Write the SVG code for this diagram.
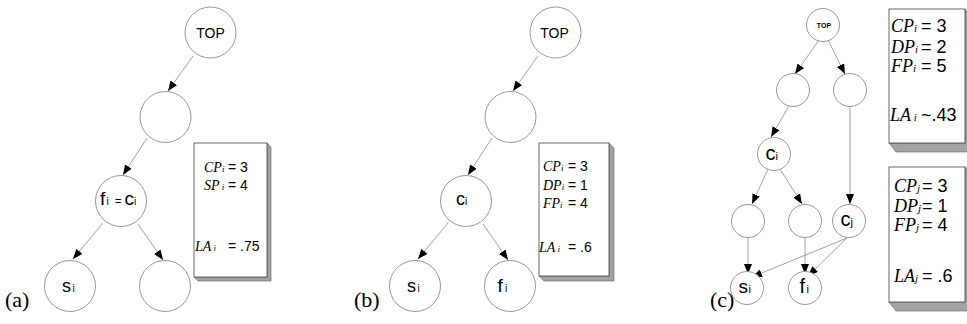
<svg xmlns="http://www.w3.org/2000/svg" width="967" height="324" viewBox="0 0 967 324">
<defs>
<marker id="ah" viewBox="0 0 10 8" markerWidth="10" markerHeight="8" refX="10" refY="4" orient="auto" markerUnits="userSpaceOnUse">
<path d="M0,0 L10,4 L0,8 Z" fill="#000"/>
</marker>
<style>
.nd{fill:#fff;stroke:#999;stroke-width:1}
.ed{stroke:#8a8a8a;stroke-width:0.8;fill:none;marker-end:url(#ah)}
.lb{font-family:"Liberation Sans",Arial,sans-serif;fill:#000}
.bx{fill:#fff;stroke:#444;stroke-width:0.8}
.sh{fill:#a3a3a3;stroke:#666;stroke-width:0.6}
.it{font-family:"Liberation Serif","Times New Roman",serif;font-style:italic}
.sv{font-family:"Liberation Sans",Arial,sans-serif}
.pl{font-family:"Liberation Serif","Times New Roman",serif;font-size:22px;fill:#000}
</style>
</defs>
<rect width="967" height="324" fill="#fff"/>

<g id="connectors">
<line class="ed" x1="193" y1="56" x2="168" y2="91"/>
<line class="ed" x1="147" y1="138" x2="123" y2="175"/>
<line class="ed" x1="103" y1="223" x2="73" y2="259"/>
<line class="ed" x1="138" y1="224" x2="163" y2="260"/>

<line class="ed" x1="538" y1="56" x2="513" y2="91"/>
<line class="ed" x1="492" y1="138" x2="468" y2="175"/>
<line class="ed" x1="448" y1="223" x2="418" y2="259"/>
<line class="ed" x1="483" y1="224" x2="508" y2="260"/>

<line class="ed" x1="819" y1="40" x2="795" y2="74"/>
<line class="ed" x1="828" y1="40" x2="845" y2="74"/>
<line class="ed" x1="789" y1="106" x2="771" y2="137"/>
<line class="ed" x1="850" y1="107" x2="850" y2="204"/>
<line class="ed" x1="768" y1="169" x2="752" y2="204"/>
<line class="ed" x1="780" y1="169" x2="802" y2="204"/>
<line class="ed" x1="748" y1="238" x2="748" y2="274"/>
<line class="ed" x1="805" y1="238" x2="805" y2="274"/>
<line class="ed" x1="847" y1="238" x2="752" y2="277"/>
<line class="ed" x1="847" y1="238" x2="808" y2="276"/>
</g>

<g id="a-top"><circle class="nd" cx="210.5" cy="32.5" r="25.5"/><text class="lb" x="210.5" y="37.5" font-size="14" text-anchor="middle">TOP</text></g>
<g id="a-n2"><circle class="nd" cx="165.5" cy="117" r="25.5"/></g>
<g id="a-fc"><circle class="nd" cx="121" cy="201" r="25.5"/><text class="lb" y="205"><tspan x="100" font-size="19">f</tspan><tspan x="106.5" font-size="10">i</tspan><tspan x="115" font-size="11">=</tspan><tspan x="124.5" font-size="19">c</tspan><tspan x="134" font-size="10">i</tspan></text></g>
<g id="a-s"><circle class="nd" cx="70" cy="286" r="25.5"/><text class="lb" y="292"><tspan x="62" font-size="18">s</tspan><tspan x="72.5" font-size="10">i</tspan></text></g>
<g id="a-r"><circle class="nd" cx="165" cy="286" r="25.5"/></g>
<g id="a-box">
<polygon class="sh" points="267,143 271,147 271,281 198,281 194,277 267,277"/>
<rect class="bx" x="194" y="143" width="73" height="134"/>
<text y="172" font-size="14"><tspan x="204" class="it" font-size="14">CP</tspan><tspan class="it" font-size="9">i</tspan><tspan x="228" class="sv">= 3</tspan></text>
<text y="190" font-size="14"><tspan x="204" class="it" font-size="14">SP</tspan><tspan class="it" font-size="9"> i</tspan><tspan x="228" class="sv">= 4</tspan></text>
<text y="251" font-size="14"><tspan x="195" class="it" font-size="14">LA</tspan><tspan class="it" font-size="9"> i</tspan><tspan x="228" class="sv">= .75</tspan></text>
</g>
<text class="pl" x="5" y="307">(a)</text>

<g id="b-top"><circle class="nd" cx="555.5" cy="32.5" r="25.5"/><text class="lb" x="554.5" y="37.5" font-size="14" text-anchor="middle">TOP</text></g>
<g id="b-n2"><circle class="nd" cx="510.5" cy="117" r="25.5"/></g>
<g id="b-c"><circle class="nd" cx="466" cy="201" r="25.5"/><text class="lb" y="205"><tspan x="456" font-size="18">c</tspan><tspan x="465" font-size="10">i</tspan></text></g>
<g id="b-s"><circle class="nd" cx="415" cy="286" r="25.5"/><text class="lb" y="292"><tspan x="407" font-size="18">s</tspan><tspan x="417.5" font-size="10">i</tspan></text></g>
<g id="b-f"><circle class="nd" cx="510" cy="286" r="25.5"/><text class="lb" y="292"><tspan x="497.5" font-size="19">f</tspan><tspan x="505" font-size="10">i</tspan></text></g>
<g id="b-box">
<polygon class="sh" points="609,143 614,148 614,281 544,281 539,276 609,276"/>
<rect class="bx" x="539" y="143" width="70" height="133"/>
<text y="171" font-size="14"><tspan x="543" class="it" font-size="14">CP</tspan><tspan class="it" font-size="9">i</tspan><tspan x="568" class="sv">= 3</tspan></text>
<text y="190" font-size="14"><tspan x="543" class="it" font-size="14">DP</tspan><tspan class="it" font-size="9">i</tspan><tspan x="568" class="sv">= 1</tspan></text>
<text y="208" font-size="14"><tspan x="543" class="it" font-size="14">FP</tspan><tspan class="it" font-size="9">i</tspan><tspan x="568" class="sv">= 4</tspan></text>
<text y="252" font-size="14"><tspan x="539" class="it" font-size="14">LA</tspan><tspan class="it" font-size="9"> i</tspan><tspan x="568" class="sv">= .6</tspan></text>
</g>
<text class="pl" x="354" y="307">(b)</text>

<g id="c-top"><circle class="nd" cx="823" cy="25" r="16.5"/><text class="lb" x="824" y="27.5" font-size="7" font-weight="bold" text-anchor="middle">TOP</text></g>
<g id="c-l2a"><circle class="nd" cx="793" cy="90" r="16.5"/></g>
<g id="c-l2b"><circle class="nd" cx="850" cy="90" r="16.5"/></g>
<g id="c-c"><circle class="nd" cx="774" cy="154" r="16.5"/><text class="lb" y="160"><tspan x="765.5" font-size="20">c</tspan><tspan x="775.5" font-size="11">i</tspan></text></g>
<g id="c-l4a"><circle class="nd" cx="748" cy="221" r="16.5"/></g>
<g id="c-l4b"><circle class="nd" cx="805" cy="221" r="16.5"/></g>
<g id="c-cj"><circle class="nd" cx="849" cy="221" r="16.5"/><text class="lb" y="226"><tspan x="840.5" font-size="20">c</tspan><tspan x="850.5" font-size="11">j</tspan></text></g>
<g id="c-s"><circle class="nd" cx="747" cy="288" r="16.5"/><text class="lb" y="293"><tspan x="738.5" font-size="19">s</tspan><tspan x="748.5" font-size="11">i</tspan></text></g>
<g id="c-f"><circle class="nd" cx="805" cy="288" r="16.5"/><text class="lb" y="293"><tspan x="799.5" font-size="20">f</tspan><tspan x="806.5" font-size="11">i</tspan></text></g>
<g id="c-box1">
<polygon class="sh" points="965,9 972,18 972,152 896,152 889,143 965,143"/>
<rect class="bx" x="889" y="9" width="76" height="134"/>
<text y="32" font-size="18"><tspan x="891" class="it" font-size="18">CP</tspan><tspan class="it" font-size="11">i</tspan><tspan x="921" class="sv">= 3</tspan></text>
<text y="52.5" font-size="18"><tspan x="891" class="it" font-size="18">DP</tspan><tspan class="it" font-size="11">i</tspan><tspan x="921" class="sv">= 2</tspan></text>
<text y="72" font-size="18"><tspan x="891" class="it" font-size="18">FP</tspan><tspan class="it" font-size="11">i</tspan><tspan x="921" class="sv">= 5</tspan></text>
<text y="121" font-size="18"><tspan x="890" class="it" font-size="18">LA</tspan><tspan class="it" font-size="11"> i</tspan><tspan x="921" class="sv">~.43</tspan></text>
</g>
<g id="c-box2">
<polygon class="sh" points="965,167 972,176 972,311 896,311 889,302 965,302"/>
<rect class="bx" x="889" y="167" width="76" height="135"/>
<text y="192" font-size="18"><tspan x="894" class="it" font-size="18">CP</tspan><tspan class="it" font-size="11">j</tspan><tspan x="922" class="sv">= 3</tspan></text>
<text y="212" font-size="18"><tspan x="894" class="it" font-size="18">DP</tspan><tspan class="it" font-size="11">j</tspan><tspan x="922" class="sv">= 1</tspan></text>
<text y="231" font-size="18"><tspan x="894" class="it" font-size="18">FP</tspan><tspan class="it" font-size="11">j</tspan><tspan x="922" class="sv">= 4</tspan></text>
<text y="282" font-size="18"><tspan x="894" class="it" font-size="18">LA</tspan><tspan class="it" font-size="11">j</tspan><tspan x="922" class="sv">= .6</tspan></text>
</g>
<text class="pl" x="710" y="307">(c)</text>
</svg>
